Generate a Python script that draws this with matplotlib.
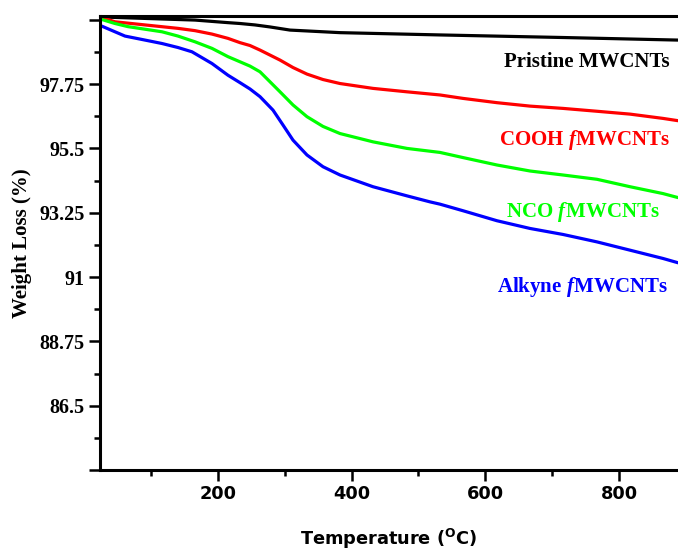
import matplotlib
matplotlib.use("Agg")
import matplotlib.pyplot as plt
from matplotlib.ticker import FixedLocator, FixedFormatter

plt.rcParams['mathtext.fontset'] = 'custom'
plt.rcParams['mathtext.it'] = 'Liberation Serif:bold:italic'
plt.rcParams['mathtext.bf'] = 'DejaVu Sans:bold'
plt.rcParams['mathtext.rm'] = 'DejaVu Sans:bold'

# Data (temperature in deg C, weight in %)
temp_pristine = [24, 166, 215.3, 233.3, 255.7, 278, 308, 382.8, 532.2, 716.1, 888]
w_pristine = [100.10, 99.99, 99.90, 99.87, 99.82, 99.75, 99.64, 99.55, 99.47, 99.38, 99.29]

temp_cooh = [24, 46.4, 91.3, 140.6, 166.0, 191.4, 215.3, 233.3, 248.2, 263.2, 293.1, 312.5,
             333.4, 357.3, 382.8, 432.1, 482.9, 532.2, 566.6, 617.4, 666.8, 716.1, 766.9,
             816.3, 865.6, 888]
w_cooh = [100.10, 99.93, 99.82, 99.70, 99.62, 99.50, 99.35, 99.20, 99.10, 98.94, 98.59, 98.33,
          98.10, 97.91, 97.77, 97.60, 97.48, 97.37, 97.25, 97.10, 96.98, 96.90, 96.80,
          96.70, 96.55, 96.47]

temp_nco = [24, 46.4, 65.9, 116.7, 140.6, 166.0, 191.4, 215.3, 233.3, 248.2, 263.2, 293.1,
            312.5, 333.4, 357.3, 382.8, 432.1, 482.9, 532.2, 566.6, 617.4, 666.8,
            716.1, 766.9, 816.3, 865.6, 888]
w_nco = [100.03, 99.87, 99.76, 99.58, 99.43, 99.23, 99.00, 98.71, 98.53, 98.38, 98.18, 97.48,
         97.02, 96.61, 96.27, 96.02, 95.73, 95.50, 95.36, 95.18, 94.92, 94.71,
         94.57, 94.42, 94.16, 93.92, 93.78]

temp_alkyne = [26.5, 46.4, 61.4, 91.3, 116.7, 140.6, 161.5, 191.4, 215.3, 233.3, 248.2, 263.2,
               282.6, 297.5, 312.5, 333.4, 357.3, 382.8, 432.1, 482.9, 517.3, 532.2, 566.6,
               617.4, 666.8, 716.1, 766.9, 816.3, 865.6, 888]
w_alkyne = [99.78, 99.58, 99.43, 99.29, 99.17, 99.03, 98.88, 98.47, 98.06, 97.80, 97.58, 97.31,
            96.84, 96.32, 95.79, 95.27, 94.86, 94.57, 94.16, 93.84, 93.63, 93.55, 93.32,
            92.97, 92.70, 92.49, 92.23, 91.94, 91.65, 91.50]

series_labels = ["Pristine MWCNTs", r"COOH $f\hspace{0.06}$MWCNTs", r"NCO $f\hspace{0.06}$MWCNTs",
                 r"Alkyne $f\hspace{0.06}$MWCNTs"]
series_colors = ["#000000", "#ff0000", "#00ff00", "#0000ff"]
label_pos = [(876, 98.36), (876, 95.61), (861, 93.11), (873, 90.48)]

y_ticks = [84.25, 86.5, 88.75, 91, 93.25, 95.5, 97.75, 100]
y_ticklabels = ["", "86.5", "88.75", "91", "93.25", "95.5", "97.75", ""]
x_ticks = [200, 400, 600, 800]
x_minor = [100, 300, 500, 700]

fig = plt.figure(figsize=(6.78, 5.52), dpi=100)
ax = fig.add_axes([100/678, 1-470/552, 1-100/678, (470-15.5)/552])

temps = [temp_pristine, temp_cooh, temp_nco, temp_alkyne]
ws = [w_pristine, w_cooh, w_nco, w_alkyne]
for t, w, c in zip(temps, ws, series_colors):
    ax.plot(t, w, color=c, lw=2.3, solid_joinstyle='round', solid_capstyle='round')

for (x, y), lab, c in zip(label_pos, series_labels, series_colors):
    ax.text(x, y, lab, color=c, ha='right', va='baseline', fontsize=15,
            family='Liberation Serif', fontweight='bold')

ax.set_xlim(24, 888)
ax.set_ylim(84.25, 100.15)

ax.yaxis.set_major_locator(FixedLocator(y_ticks))
ax.yaxis.set_major_formatter(FixedFormatter(y_ticklabels))
ax.yaxis.set_minor_locator(FixedLocator([v + 1.125 for v in y_ticks[:-1]]))
ax.xaxis.set_major_locator(FixedLocator(x_ticks))
ax.xaxis.set_minor_locator(FixedLocator(x_minor))

for lab in ax.get_yticklabels():
    lab.set_family('Liberation Serif'); lab.set_fontweight('bold'); lab.set_fontsize(14.5)
for lab in ax.get_xticklabels():
    lab.set_family('DejaVu Sans'); lab.set_fontweight('bold'); lab.set_fontsize(12.8)

ax.tick_params(axis='both', which='major', length=8, width=1.8, direction='out', pad=3)
ax.tick_params(axis='both', which='minor', length=4.5, width=1.8, direction='out')
ax.tick_params(axis='x', which='major', pad=3)

for s in ['left', 'bottom', 'top']:
    ax.spines[s].set_linewidth(2.2)
ax.spines['right'].set_visible(False)

ax.set_ylabel("Weight Loss (%)", family='Liberation Serif', fontweight='bold', fontsize=15, labelpad=5)
ax.set_xlabel(r"Temperature ($\mathbf{^{O}}$C)", family='DejaVu Sans', fontweight='bold',
              fontsize=12.8, labelpad=17)

fig.savefig("out.png", dpi=100)
